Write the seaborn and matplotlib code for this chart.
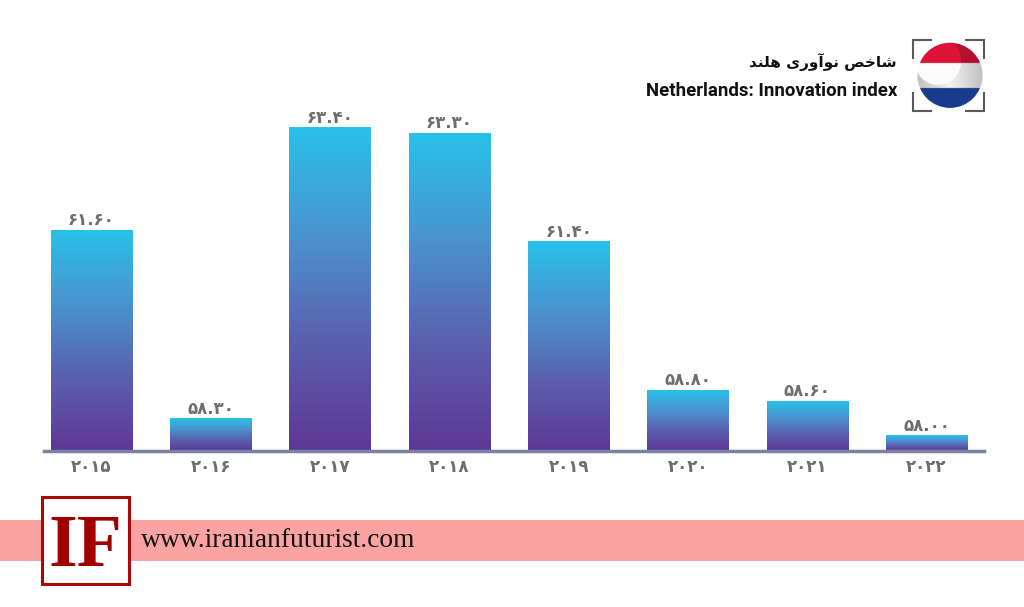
#Netherlands innovation index bar chart
import numpy as np
import pandas as pd
import matplotlib.pyplot as plt
from matplotlib.colors import LinearSegmentedColormap, to_rgb
from matplotlib.patches import Circle, Rectangle
import seaborn as sns

years = [2015, 2016, 2017, 2018, 2019, 2020, 2021, 2022]
index_values = [61.6, 58.3, 63.4, 63.3, 61.4, 58.8, 58.6, 58.0]

title_en = 'Netherlands: Innovation index'
#matplotlib does not shape arabic, so the joined letter forms are written in drawing order
title_fa = '\uFEAA\uFEE8\uFEE0\uFEEB \uFBFC\uFEAD\uFEED\uFE81\uFEEE\uFEE7 \uFEBA\uFEA7\uFE8E\uFEB7'
site_name = 'www.iranianfuturist.com'
logo_text = 'IF'

fa_digits = str.maketrans('0123456789', '۰۱۲۳۴۵۶۷۸۹')

df = pd.DataFrame({'year': years, 'value': index_values})
df['year_label'] = df['year'].astype(str).str.translate(fa_digits)

sns.set_style('white')
plt.rcParams['font.family'] = ['DejaVu Sans']

W, H = 1024, 607
fig = plt.figure(figsize=(W / 100, H / 100), dpi=100, facecolor='white')

#main chart, axes placed in pixels
left, right, top, bottom = 44, 984, 100, 451.3
ax = fig.add_axes([left / W, 1 - bottom / H, (right - left) / W, (bottom - top) / H])

sns.barplot(data=df, x='year_label', y='value', order=df['year_label'], width=0.68,
            color='#5E3795', saturation=1, ax=ax)
px_per_unit = 57.06
ylims = (63.4 - (bottom - 128) / px_per_unit, 63.4 + (128 - top) / px_per_unit)
xlims = (-0.398, 7.482)

#gradient per bar
grad = LinearSegmentedColormap.from_list('bar', ['#5E3795', '#5A5FAE', '#4A93CF', '#29C1E8'])
ramp = np.linspace(0, 1, 256).reshape(-1, 1)
for bar in ax.patches:
    ax.imshow(ramp, cmap=grad, origin='lower', aspect='auto', zorder=2,
              extent=[bar.get_x(), bar.get_x() + bar.get_width(), ylims[0], bar.get_height()])
ax.set_xlim(*xlims)
ax.set_ylim(*ylims)

labels = [f'{v:.2f}'.translate(fa_digits) for v in index_values]
ax.bar_label(ax.containers[0], labels=labels, padding=1, color='#6D6E71',
             fontsize=12, fontweight='bold', zorder=3)

ax.set_xlabel('')
ax.set_ylabel('')
ax.set_yticks([])
ax.tick_params(axis='x', length=0, pad=5, labelsize=12, labelcolor='#6D6E71')
for t in ax.get_xticklabels():
    t.set_fontweight('bold')
sns.despine(ax=ax, left=True)
ax.spines['bottom'].set_color('#7A82A3')
ax.spines['bottom'].set_linewidth(2.5)
ax.spines['bottom'].set_zorder(5)
ax.patch.set_alpha(0)

#overlay in pixel coordinates for header and footer
ov = fig.add_axes([0, 0, 1, 1], zorder=3)
ov.axis('off')

#footer band and logo
ov.add_patch(Rectangle((0, 520), W, 41, color='#F9A2A2', lw=0))
ov.add_patch(Rectangle((41.5, 497), 87, 87, facecolor='white', edgecolor='#A80808', lw=2.2))
ov.text(85.5, 565.5, logo_text, family='Liberation Serif', fontweight='bold', fontsize=53,
        color='#A00000', ha='center', va='baseline')
ov.text(141, 540.5, site_name, family='Liberation Serif', fontsize=19.85, color='#141414',
        ha='left', va='center')

#header text
ov.text(897, 62, title_fa, family='DejaVu Sans', fontweight='bold', fontsize=11,
        color='#111111', ha='right', va='center')
ov.text(897, 91.5, title_en, family='Roboto', fontweight='bold', fontsize=13.4,
        color='#111111', ha='right', va='center')

#flag badge, painted from masks on a small pixel grid
cx, cy, r = 950, 75.3, 32.6
gx, gy = np.meshgrid(np.linspace(cx - r, cx + r, 264), np.linspace(cy - r, cy + r, 264))
shade = np.abs((gx - cx) / r)[..., None]
flag = np.ones(gx.shape + (3,)) * (0.95 - 0.2 * shade)
inner = (gx - 938) ** 2 + (gy - 62) ** 2 < 23 ** 2
flag[inner] = to_rgb('#FBFBFB')
red = gy < 63.3
flag[red] = to_rgb('#B3132F')
flag[red & ((gx - 930) ** 2 + (gy - 62) ** 2 < 31 ** 2)] = to_rgb('#DD1238')
flag[gy > 88.3] = to_rgb('#1A3A8F')
im = ov.imshow(flag, aspect='auto', extent=[cx - r, cx + r, cy + r, cy - r], zorder=2)
im.set_clip_path(Circle((cx, cy), r, transform=ov.transData))
ov.set_xlim(0, W)
ov.set_ylim(H, 0)

#corner brackets round the flag
x1, x2, y1, y2, arm = 913, 984, 39.5, 110.5, 19
for x, dx in [(x1, 1), (x2, -1)]:
    for y, dy in [(y1, 1), (y2, -1)]:
        ov.plot([x + dx * arm, x, x], [y, y, y + dy * arm], color='#5A5A5A', lw=1.5,
                solid_joinstyle='miter', solid_capstyle='butt', zorder=1)

fig.savefig('out.png', dpi=100)
